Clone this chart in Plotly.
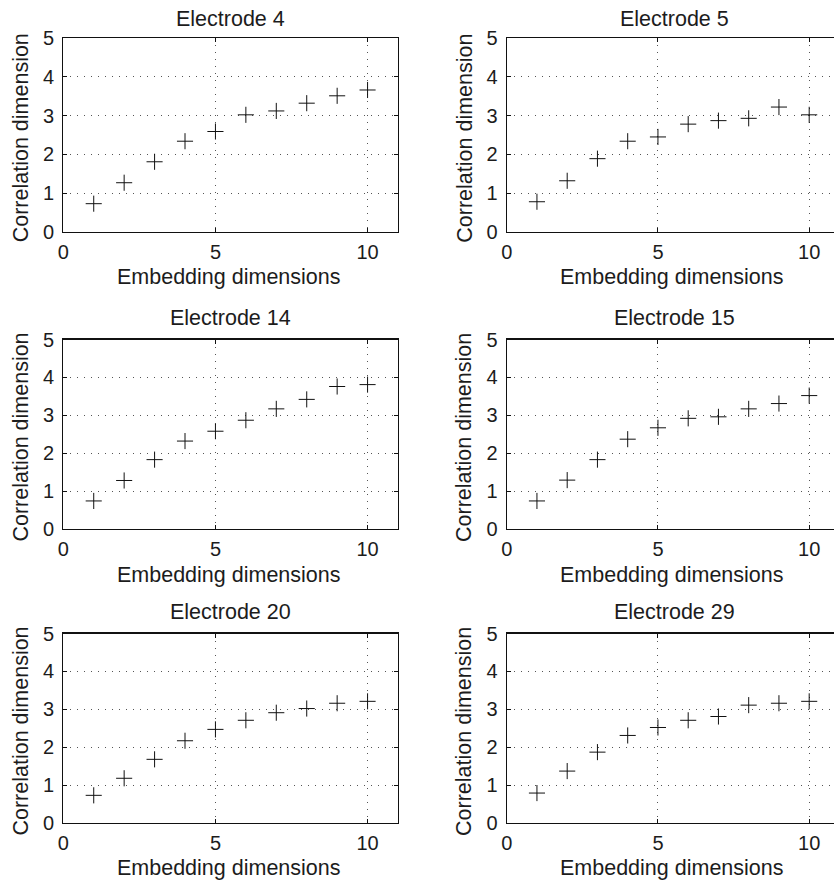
import plotly.graph_objects as go

embedding_dims = [1, 2, 3, 4, 5, 6, 7, 8, 9, 10]
electrode_names = ["Electrode 4", "Electrode 5", "Electrode 14", "Electrode 15", "Electrode 20", "Electrode 29"]
electrode_4 = [0.73, 1.27, 1.81, 2.34, 2.59, 3.02, 3.12, 3.32, 3.51, 3.66]
electrode_5 = [0.78, 1.32, 1.89, 2.34, 2.45, 2.78, 2.87, 2.93, 3.22, 3.02]
electrode_14 = [0.74, 1.28, 1.83, 2.32, 2.58, 2.87, 3.17, 3.42, 3.76, 3.81]
electrode_15 = [0.74, 1.29, 1.83, 2.37, 2.67, 2.92, 2.96, 3.17, 3.31, 3.52]
electrode_20 = [0.73, 1.18, 1.68, 2.17, 2.47, 2.71, 2.91, 3.02, 3.16, 3.21]
electrode_29 = [0.79, 1.37, 1.87, 2.31, 2.52, 2.71, 2.81, 3.11, 3.16, 3.21]
series = [electrode_4, electrode_5, electrode_14, electrode_15, electrode_20, electrode_29]

x_ticks = [0, 5, 10]
y_ticks = [0, 1, 2, 3, 4, 5]
x_title = "Embedding dimensions"
y_title = "Correlation dimension"

W, H = 834, 882
FONT = "Liberation Sans, Arial, Helvetica, sans-serif"
TXT = "#1c1c1c"
FS = 21.5
FS_TICK = 20

# pixel geometry of panels (left, right, top, bottom)
cols = [(63.3, 398.0, 11.0), (506.7, 834.0, 10.82)]
rows = [(38.0, 232.0), (339.5, 529.0), (633.5, 823.0)]
title_gap = [11.5, 13.5, 13.5]      # axis top -> title baseline
xtitle_gap = [53, 53.5, 52.5]       # axis bottom -> x-title baseline

fig = go.Figure()
layout = dict(
    width=W, height=H,
    margin=dict(l=0, r=0, t=0, b=0, autoexpand=False),
    paper_bgcolor="white", plot_bgcolor="white",
    showlegend=False,
    font=dict(family=FONT, size=FS, color=TXT),
)
annotations = []
tf = dict(family=FONT, size=FS, color=TXT)
tkf = dict(family=FONT, size=FS_TICK, color=TXT)
for i, (name, vals) in enumerate(zip(electrode_names, series)):
    r, c = divmod(i, 2)
    xl, xr, xmax = cols[c]
    yt, yb = rows[r]
    k = i + 1
    xa = "x" if k == 1 else f"x{k}"
    ya = "y" if k == 1 else f"y{k}"
    fig.add_trace(go.Scatter(
        x=embedding_dims, y=vals, mode="markers",
        marker=dict(symbol="cross-thin", size=11.5, line=dict(width=1, color="#111")),
        xaxis=xa, yaxis=ya, hoverinfo="skip",
    ))
    axcommon = dict(
        showline=True, linecolor="#111", linewidth=1.2,
        ticks="inside", ticklen=4, tickcolor="#111",
        showgrid=True, gridcolor="#555", griddash="1px,6px", gridwidth=1,
        zeroline=False, automargin=False,
        tickfont=tkf,
        fixedrange=True,
    )
    layout["xaxis" if k == 1 else f"xaxis{k}"] = dict(
        axcommon,
        domain=[xl / W, xr / W], range=[0, xmax],
        tickvals=x_ticks, ticktext=[str(t) for t in x_ticks],
        mirror="ticks", anchor=ya, ticklabelstandoff=2,
    )
    layout["yaxis" if k == 1 else f"yaxis{k}"] = dict(
        axcommon,
        domain=[1 - yb / H, 1 - yt / H], range=[0, 5],
        tickvals=y_ticks, ticktext=[str(t) for t in y_ticks],
        mirror="ticks" if c == 0 else False,
        anchor=xa, ticklabelstandoff=4,
    )
    cx = (xl + xr) / 2 if c == 0 else xl + 167.5
    # panel title
    annotations.append(dict(
        text=name, xref="paper", yref="paper",
        x=cx / W, y=1 - (yt - title_gap[r] - 7.7) / H,
        xanchor="center", yanchor="middle",
        showarrow=False, font=tf,
    ))
    # x-axis title
    annotations.append(dict(
        text=x_title, xref="paper", yref="paper",
        x=(cx - 2) / W, y=1 - (yb + xtitle_gap[r] - 7.7) / H,
        xanchor="center", yanchor="middle",
        showarrow=False, font=tf,
    ))
    # y-axis title
    annotations.append(dict(
        text=y_title, xref="paper", yref="paper",
        x=(xl - 42) / W, y=1 - ((yt + yb) / 2 + 3) / H,
        xanchor="center", yanchor="middle", textangle=-90,
        showarrow=False, font=tf,
    ))
layout["annotations"] = annotations
fig.update_layout(**layout)
fig.write_html(
    "out.html",
    config={"displayModeBar": False, "staticPlot": True},
    post_script="document.body.style.margin='0';document.body.style.overflow='hidden';",
)
